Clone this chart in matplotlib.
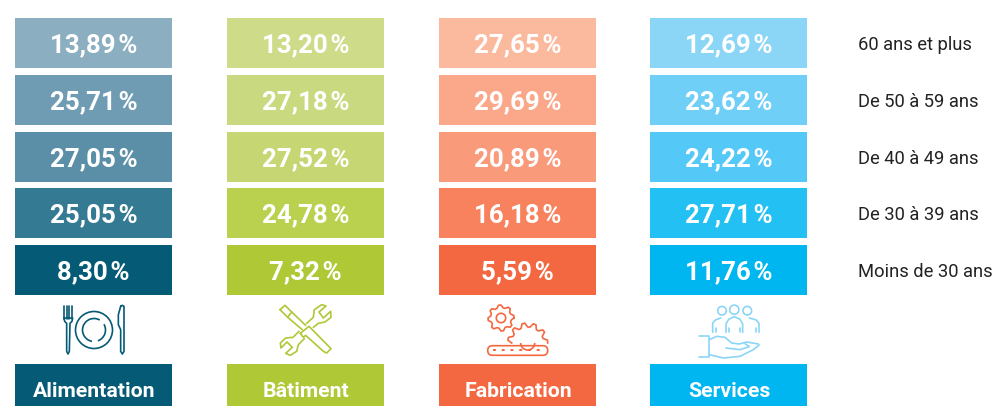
import numpy as np
import matplotlib
matplotlib.use('Agg')
import matplotlib.pyplot as plt
from matplotlib.patches import Rectangle, Circle, FancyBboxPatch, Arc

categories = ['Alimentation', 'Bâtiment', 'Fabrication', 'Services']
age_groups = ['60 ans et plus', 'De 50 à 59 ans', 'De 40 à 49 ans', 'De 30 à 39 ans', 'Moins de 30 ans']

alimentation = [13.89, 25.71, 27.05, 25.05, 8.30]
batiment = [13.20, 27.18, 27.52, 24.78, 7.32]
fabrication = [27.65, 29.69, 20.89, 16.18, 5.59]
services = [12.69, 23.62, 24.22, 27.71, 11.76]

colors_alim = ['#8BAEC1', '#6F9CB2', '#5A8FA7', '#357A93', '#055A75']
colors_bat = ['#CEDB89', '#C9D97F', '#C5D672', '#B9D14F', '#AEC836']
colors_fab = ['#FBB99E', '#FAA78A', '#F99A7A', '#F7825D', '#F46841']
colors_serv = ['#8BD6F7', '#70CFF7', '#54C8F6', '#22C0F3', '#00B6F0']

COL_X = [15, 227, 439, 650]
COL_W = 157
ROW_Y = [18, 75, 132, 188, 245]
ROW_H = 50
LW = 1.2


def fmt(v):
  return f"{v:.2f}".replace('.', ',') + '\u200a%'


def trace(ax, ox, oy, pts, c, lw=LW):
  # pts are read on a 3x crop of the icon, ox/oy being the corner of the crop
  xs = [ox + p[0] / 3 for p in pts]
  ys = [oy + p[1] / 3 for p in pts]
  ax.plot(xs, ys, color=c, lw=lw, solid_joinstyle='round', solid_capstyle='round')


def icon_cutlery(ax, c):
  for x in [42, 50, 58, 66]:
    trace(ax, 50, 298, [(x, 25), (x, 62)], c)
  trace(ax, 50, 298, [(42, 60), (44, 70), (50, 76), (50, 160), (54, 168), (58, 160), (60, 76), (66, 70), (68, 60), (42, 60)], c)
  ax.add_patch(Circle((94, 330), 18.5, fill=False, ec=c, lw=LW))
  ax.add_patch(Arc((94, 330), 23, 23, theta1=-30, theta2=70, ec=c, lw=LW))
  ax.add_patch(Arc((94, 330), 23, 23, theta1=100, theta2=300, ec=c, lw=LW))
  trace(ax, 50, 298, [(212, 25), (205, 50), (205, 80), (212, 95), (212, 160), (217, 168), (222, 160), (222, 25), (217, 22), (212, 25)], c)


def icon_tools(ax, c):
  # tournevis
  trace(ax, 265, 298, [(45, 35), (60, 22), (80, 42), (68, 58), (45, 35)], c)
  trace(ax, 265, 298, [(68, 58), (112, 95)], c)
  trace(ax, 265, 298, [(80, 42), (122, 82)], c)
  trace(ax, 265, 298, [(106, 106), (132, 85), (142, 95), (198, 152), (185, 165), (175, 160), (122, 112), (115, 118), (106, 106)], c)
  # cle
  trace(ax, 265, 298, [(125, 76), (145, 58), (148, 35), (170, 20), (183, 24), (162, 42), (175, 60), (197, 40),
                       (198, 58), (180, 72), (160, 76), (145, 88)], c)
  trace(ax, 265, 298, [(102, 100), (84, 118), (62, 120), (46, 135), (48, 150), (66, 132), (82, 148), (62, 166),
                       (76, 172), (95, 160), (100, 140), (118, 122)], c)


def gear(ax, cx, cy, r, teeth, c, t1=0, t2=360):
  a = np.radians(np.arange(t1, t2 + 1, 360 / (teeth * 4)))
  rr = np.where(np.arange(len(a)) % 4 < 2, r, r * 0.8)
  ax.plot(cx + rr * np.cos(a), cy - rr * np.sin(a), color=c, lw=LW, solid_joinstyle='round')


def icon_gears(ax, c):
  gear(ax, 501, 318, 13, 8, c)
  ax.add_patch(Circle((501, 318), 4.7, fill=False, ec=c, lw=LW))
  gear(ax, 527.7, 343, 20, 11, c, t1=0, t2=180)
  ax.add_patch(Arc((527.7, 343), 14, 14, theta1=0, theta2=180, ec=c, lw=LW))
  ax.add_patch(FancyBboxPatch((487.7, 345.7), 60, 9.6, boxstyle='round,pad=0,rounding_size=4.8',
                              fill=False, ec=c, lw=LW))
  ax.plot([493, 543], [350.5, 350.5], color=c, lw=1.4, dashes=(1.5, 3.0))


def icon_people(ax, c):
  for x, y, r in [(722, 310.7, 4.3), (734.3, 309.7, 4.6), (747.3, 310.7, 4.3)]:
    ax.add_patch(Circle((x, y), r, fill=False, ec=c, lw=LW))
  trace(ax, 690, 298, [(108, 103), (108, 78), (116, 64), (133, 56), (150, 64), (158, 78), (158, 103)], c)
  trace(ax, 690, 298, [(68, 103), (68, 76), (76, 66), (92, 60)], c)
  trace(ax, 690, 298, [(207, 103), (207, 76), (199, 66), (178, 60)], c)
  for x in [78, 118, 150, 197]:
    trace(ax, 690, 298, [(x, 90), (x, 103)], c)
  trace(ax, 690, 298, [(28, 115), (58, 115), (58, 178), (28, 178)], c)
  trace(ax, 690, 298, [(58, 125), (80, 115), (105, 118), (125, 135), (148, 138), (170, 132), (205, 138), (207, 142),
                       (190, 155), (150, 175), (100, 180), (58, 170)], c)
  trace(ax, 690, 298, [(108, 150), (150, 155), (178, 146), (165, 137)], c)


fig = plt.figure(figsize=(9.98, 4.0601), dpi=100)
ax = fig.add_axes([0, 0, 1, 1])
ax.set_xlim(0, 998)
ax.set_ylim(406, 0)
ax.axis('off')

plt.rcParams['font.family'] = ['Roboto', 'DejaVu Sans']

series = [alimentation, batiment, fabrication, services]
palettes = [colors_alim, colors_bat, colors_fab, colors_serv]

for x, name, values, palette in zip(COL_X, categories, series, palettes):
  for y, v, col in zip(ROW_Y, values, palette):
    ax.add_patch(Rectangle((x, y), COL_W, ROW_H, color=col, lw=0))
    ax.text(x + COL_W / 2, y + ROW_H / 2, fmt(v), color='white', fontsize=18.6, fontweight='bold',
            ha='center', va='center_baseline')
  ax.add_patch(Rectangle((x, 364), COL_W, 42, color=palette[-1], lw=0))
  ax.text(x + COL_W / 2 + 0.5, 389, name, color='white', fontsize=15.3, fontweight='bold',
          ha='center', va='center_baseline')

for y, label in zip(ROW_Y, age_groups):
  ax.text(858, y + ROW_H / 2 - 0.5, label, color='#222222', fontsize=13.2, ha='left', va='center_baseline')

icon_cutlery(ax, colors_alim[-1])
icon_tools(ax, colors_bat[-1])
icon_gears(ax, colors_fab[-1])
icon_people(ax, colors_serv[0])

fig.savefig('out.png', dpi=100)
